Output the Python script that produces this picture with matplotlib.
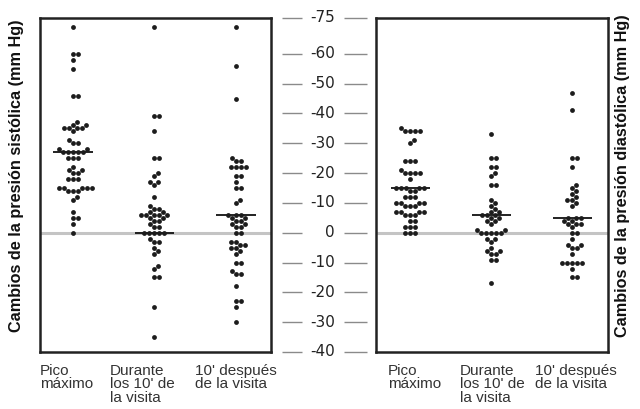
import numpy as np
import matplotlib
matplotlib.use("Agg")
import matplotlib.pyplot as plt

# categorias del eje x
grupos = ["Pico\nmáximo", "Durante\nlos 10' de\nla visita", "10' después\nde la visita"]

# valores (hacia arriba = descenso mayor)
sis_pico = [69, 60, 60, 58, 55, 46, 46, 37, 36, 36, 35, 35, 35, 35, 34, 31, 30, 30,
            28, 28, 27, 27, 27, 27, 27, 25, 25, 25, 22, 21, 21, 20, 20, 18, 18, 18,
            15, 15, 15, 15, 15, 14, 14, 14, 12, 11, 7, 5, 5, 3, 0]
sis_durante = [69, 39, 39, 34, 25, 25, 20, 19, 17, 17, 16, 12, 9, 8, 8, 7, 7, 6, 6, 6,
               6, 6, 5, 5, 4, 4, 3, 2, 2, 0, 0, 0, 0, 0, -2, -3, -3, -5, -6, -7, -11,
               -12, -15, -15, -25, -35]
sis_despues = [69, 56, 45, 25, 24, 24, 22, 22, 22, 22, 19, 19, 17, 15, 15, 11, 10, 6, 6,
               6, 5, 5, 4, 4, 3, 3, 2, 2, 0, 0, -3, -3, -4, -4, -5, -5, -6, -7, -10,
               -10, -13, -14, -14, -18, -23, -23, -25, -30]
sis_linea = [27, 0, 6]

dia_pico = [35, 34, 34, 34, 34, 31, 30, 24, 24, 24, 21, 20, 20, 20, 20, 18, 15, 15, 15,
            15, 15, 14, 14, 12, 12, 12, 10, 10, 10, 10, 9, 9, 9, 7, 7, 7, 7, 6, 6, 6,
            4, 4, 2, 2, 2, 0, 0, 0]
dia_durante = [33, 25, 25, 22, 22, 20, 19, 16, 16, 11, 10, 9, 8, 7, 7, 6, 6, 6, 5, 5,
               4, 4, 3, 1, 1, 0, 0, 0, 0, 0, -2, -2, -3, -5, -6, -6, -7, -7, -9, -9, -17]
dia_despues = [47, 41, 25, 25, 22, 16, 15, 14, 13, 12, 11, 11, 10, 9, 5, 5, 5, 4, 4, 3,
               3, 3, 2, 0, 0, -2, -4, -4, -5, -5, -7, -10, -10, -10, -10, -10, -12,
               -15, -15]
dia_linea = [15, 6, 5]

# eje central
marcas = [72, 60, 50, 40, 30, 20, 10, 0, -10, -20, -30, -40]
marcas_txt = ["-75", "-60", "-50", "-40", "-30", "-20", "-10", "0",
              "-10", "-20", "-30", "-40"]

PX_X = 81.5   # pixeles por categoria
PX_Y = 2.98   # pixeles por mm Hg


def swarm(vals, d=4.8):
    orden = np.argsort(vals, kind="stable")
    offs = np.zeros(len(vals))
    puestos = []
    for i in orden:
        y = vals[i] * PX_Y
        cands = [0]
        for k in range(1, 80):
            cands += [k * 0.5, -k * 0.5]
        for c in cands:
            ok = True
            for (px, py) in puestos:
                if abs(py - y) < d and (px - c) ** 2 + (py - y) ** 2 < d * d:
                    ok = False
                    break
            if ok:
                break
        puestos.append((c, y))
        offs[i] = c / PX_X
    return offs


fig = plt.figure(figsize=(6.4, 4.09), dpi=100)
ylim = (-40, 72)

fam_txt = ['Liberation Sans', 'DejaVu Sans']


def panel(rect, series, lineas, xlim, xtxt):
    ax = fig.add_axes(rect)
    ax.axhline(0, color='#c4c4c4', lw=2.2, zorder=1)
    for i, vals in enumerate(series):
        vals = np.array(vals, dtype=float)
        xs = i + swarm(vals)
        ax.scatter(xs, vals, s=12, color='#1c1c1c', linewidths=0, zorder=4)
        ax.hlines(lineas[i], i - 0.24, i + 0.24, color='#111111', lw=1.3, zorder=3)
    ax.set_xlim(*xlim)
    ax.set_ylim(*ylim)
    ax.set_xticks([])
    ax.set_yticks([])
    for s in ax.spines.values():
        s.set_linewidth(1.8)
        s.set_color('#222222')
    for x, g in zip(xtxt, grupos):
        ax.text(x, -0.035, g, transform=ax.transAxes, ha='left', va='top',
                fontsize=11, color='#333333', linespacing=0.95, family=fam_txt)
    return ax


panel([40 / 640, 57 / 409, 231 / 640, 334 / 409],
      [sis_pico, sis_durante, sis_despues], sis_linea, (-0.405, 2.43),
      [0.0, 0.303, 0.671])
panel([376 / 640, 57 / 409, 232 / 640, 334 / 409],
      [dia_pico, dia_durante, dia_despues], dia_linea, (-0.42, 2.44),
      [0.052, 0.362, 0.685])

axm = fig.add_axes([280 / 640, 57 / 409, 90 / 640, 334 / 409])
axm.set_xlim(280, 370)
axm.set_ylim(*ylim)
axm.axis('off')
axm.hlines(marcas, 282, 302, color='#8a8a8a', lw=1.0, clip_on=False)
axm.hlines(marcas, 344, 367, color='#8a8a8a', lw=1.0, clip_on=False)
for m, t in zip(marcas, marcas_txt):
    axm.text(335, m, t, ha='right', va='center', fontsize=11, color='#222222',
             clip_on=False)

fig.text(17 / 640, 1 - 176 / 409, "Cambios de la presión sistólica (mm Hg)",
         rotation=90, ha='center', va='center', fontsize=11.7, fontweight='bold',
         color='#111111', family=fam_txt)
fig.text(622 / 640, 1 - 176 / 409, "Cambios de la presión diastólica (mm Hg)",
         rotation=90, ha='center', va='center', fontsize=11.7, fontweight='bold',
         color='#111111', family=fam_txt)

fig.savefig("out.png", dpi=100)
